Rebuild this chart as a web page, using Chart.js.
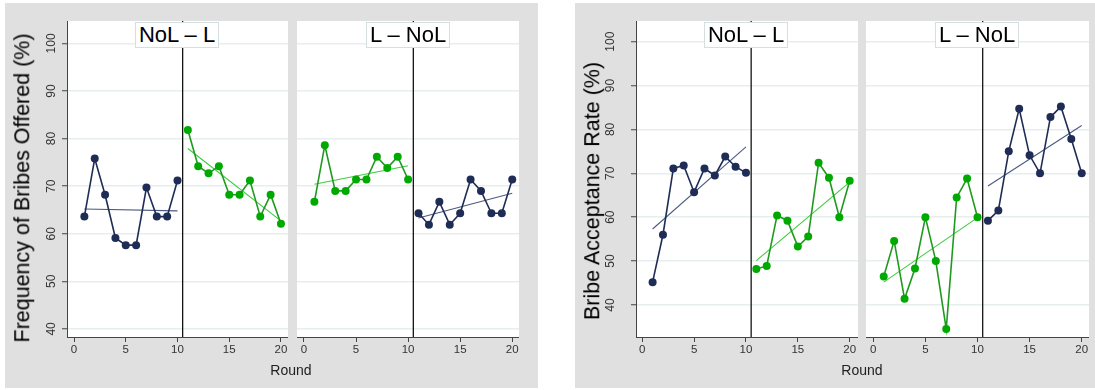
<!DOCTYPE html>
<html><head><meta charset="utf-8">
<script src="https://cdn.jsdelivr.net/npm/chart.js@4/dist/chart.umd.min.js"></script>
<style>
html,body{margin:0;padding:0;background:#fff;width:1095px;height:390px;overflow:hidden;font-family:"Liberation Sans",Arial,sans-serif;}
.bg{position:absolute;background:#e0e0e0;}
canvas{position:absolute;}
.ptitle{position:absolute;top:22px;width:84px;height:26px;margin-left:-42px;background:#fff;border:1px solid #d6dfdf;box-sizing:border-box;font-size:22px;color:#000;text-align:center;line-height:24px;white-space:nowrap;}
.ytitle{position:absolute;font-size:21.5px;white-space:nowrap;transform:translate(-50%,-50%) rotate(-90deg);color:#000;line-height:1;}
.xtitle{position:absolute;font-size:14px;transform:translate(-50%,-50%);color:#222;white-space:nowrap;}
</style></head>
<body>
<div class="bg" style="left:5px;top:3px;width:533px;height:385px"></div>
<div class="bg" style="left:575px;top:3px;width:520px;height:385px"></div>
<canvas id="c1" width="283" height="385" style="left:5px;top:3px"></canvas>
<canvas id="c2" width="222" height="385" style="left:297px;top:3px"></canvas>
<canvas id="c3" width="283" height="385" style="left:575px;top:3px"></canvas>
<canvas id="c4" width="223" height="385" style="left:866px;top:3px"></canvas>
<div class="ptitle" style="left:177px">NoL &ndash; L</div>
<div class="ptitle" style="left:408px">L &ndash; NoL</div>
<div class="ptitle" style="left:746px">NoL &ndash; L</div>
<div class="ptitle" style="left:977px">L &ndash; NoL</div>
<div class="ytitle" style="left:23px;top:187.5px">Frequency of Bribes Offered (%)</div>
<div class="ytitle" style="left:593px;top:191px">Bribe Acceptance Rate (%)</div>
<div class="xtitle" style="left:291px;top:370px">Round</div>
<div class="xtitle" style="left:862px;top:370px">Round</div>
<script>
// ---- data ----
const firstRounds = [1,2,3,4,5,6,7,8,9,10];
const secondRounds = [11,12,13,14,15,16,17,18,19,20];
const fitRoundsFirst = [1,10];
const fitRoundsSecond = [11,20];
const switchRound = 10.5;
const xTicks = [0,5,10,15,20];
const yTicks = [40,50,60,70,80,90,100];

// Frequency of Bribes Offered (%)
const offeredNoLL_NoL = [63.6,75.8,68.2,59.1,57.6,57.6,69.7,63.6,63.6,71.2];
const offeredNoLL_L   = [81.8,74.2,72.7,74.2,68.2,68.2,71.2,63.6,68.2,62.1];
const offeredLNoL_L   = [66.7,78.6,69.0,69.0,71.4,71.4,76.2,73.8,76.2,71.4];
const offeredLNoL_NoL = [64.3,61.9,66.7,61.9,64.3,71.4,69.0,64.3,64.3,71.4];
const fitOfferedNoLL_NoL = [65.2,64.8];
const fitOfferedNoLL_L   = [77.9,62.7];
const fitOfferedLNoL_L   = [70.4,74.3];
const fitOfferedLNoL_NoL = [63.3,68.5];

// Bribe Acceptance Rate (%)
const acceptNoLL_NoL = [45.2,56.0,71.1,71.8,65.7,71.1,69.5,73.8,71.5,70.1];
const acceptNoLL_L   = [48.2,48.9,60.4,59.2,53.3,55.6,72.4,69.0,60.0,68.3];
const acceptLNoL_L   = [46.5,54.6,41.4,48.3,60.0,50.0,34.5,64.5,68.8,60.0];
const acceptLNoL_NoL = [59.2,61.5,75.0,84.7,74.1,70.0,82.8,85.2,77.8,70.0];
const fitAcceptNoLL_NoL = [57.3,76.0];
const fitAcceptNoLL_L   = [50.1,68.0];
const fitAcceptLNoL_L   = [45.2,59.9];
const fitAcceptLNoL_NoL = [67.1,80.9];

// ---- styles ----
const FONT = '"Liberation Sans", Arial, sans-serif';
const NAVY = '#1f2d56', NAVY_FIT = '#4b5a80';
const GREEN_MARK = '#00a900', GREEN_LINE = '#1f9a1f', GREEN_FIT = '#3ccc3c';
const AXIS = '#444';

const pts = (xs, ys) => xs.map((x, i) => ({x: x, y: ys[i]}));

const plotBg = {
  id: 'plotBg',
  beforeDraw(chart) {
    const {ctx, chartArea: a} = chart;
    ctx.save();
    ctx.fillStyle = '#fff';
    ctx.fillRect(a.left, a.top, a.right - a.left, a.bottom - a.top);
    ctx.restore();
  }
};

function series(xs, ys, markColor, lineColor) {
  return {data: pts(xs, ys), borderColor: lineColor, borderWidth: 1.6,
    pointRadius: 4, pointBackgroundColor: markColor, pointBorderWidth: 0, pointHoverRadius: 4};
}
function fit(xs, ys, color) {
  return {data: pts(xs, ys), borderColor: color, borderWidth: 1.1, pointRadius: 0};
}

function makeChart(id, o) {
  const datasets = [
    series(firstRounds, o.first, o.firstMark, o.firstLine),
    series(secondRounds, o.second, o.secondMark, o.secondLine),
    fit(fitRoundsFirst, o.firstFit, o.firstFitColor),
    fit(fitRoundsSecond, o.secondFit, o.secondFitColor),
    {data: [{x: switchRound, y: o.yMin}, {x: switchRound, y: o.yMax}], borderColor: '#000', borderWidth: 1.2, pointRadius: 0}
  ];
  new Chart(document.getElementById(id), {
    type: 'line',
    data: {datasets: datasets},
    plugins: [plotBg],
    options: {
      responsive: false, animation: false, devicePixelRatio: 1, events: [],
      layout: {autoPadding: false, padding: {top: 18, left: 0, right: 0, bottom: 0}},
      plugins: {legend: {display: false}, tooltip: {enabled: false}},
      scales: {
        x: {
          type: 'linear', min: o.xMin, max: o.xMax,
          afterBuildTicks: s => { s.ticks = xTicks.map(v => ({value: v})); },
          afterFit: s => { s.height = 51; s.paddingLeft = 0; s.paddingRight = 0; },
          grid: {drawOnChartArea: false, drawTicks: true, tickLength: 5, tickColor: AXIS, tickWidth: 1},
          border: {display: true, color: AXIS, width: 1},
          ticks: {font: {family: FONT, size: 11.5}, color: '#333', padding: 1, maxRotation: 0, minRotation: 0, autoSkip: false}
        },
        y: {
          type: 'linear', min: o.yMin, max: o.yMax,
          afterBuildTicks: s => { s.ticks = yTicks.map(v => ({value: v})); },
          afterFit: s => { s.width = o.yWidth; s.paddingTop = 0; s.paddingBottom = 0; },
          grid: {color: '#e6eeee', lineWidth: 1.5, drawTicks: o.showY, tickLength: 5, tickColor: AXIS, tickWidth: 1},
          border: {display: o.showY, color: AXIS, width: 1},
          ticks: {display: o.showY, minRotation: 90, maxRotation: 90, crossAlign: 'center', padding: o.yPad,
            font: {family: FONT, size: 12}, color: '#333', autoSkip: false}
        }
      }
    }
  });
}

makeChart('c1', {first: offeredNoLL_NoL, firstMark: NAVY, firstLine: NAVY, firstFit: fitOfferedNoLL_NoL, firstFitColor: NAVY_FIT,
  second: offeredNoLL_L, secondMark: GREEN_MARK, secondLine: GREEN_LINE, secondFit: fitOfferedNoLL_L, secondFitColor: GREEN_FIT,
  yMin: 38.3, yMax: 104.7, xMin: -0.68, xMax: 20.68, yWidth: 62, showY: true, yPad: 0});
makeChart('c2', {first: offeredLNoL_L, firstMark: GREEN_MARK, firstLine: GREEN_LINE, firstFit: fitOfferedLNoL_L, firstFitColor: GREEN_FIT,
  second: offeredLNoL_NoL, secondMark: NAVY, secondLine: NAVY, secondFit: fitOfferedLNoL_NoL, secondFitColor: NAVY_FIT,
  yMin: 38.3, yMax: 104.7, xMin: -0.67, xMax: 20.65, yWidth: 0, showY: false, yPad: 0});
makeChart('c3', {first: acceptNoLL_NoL, firstMark: NAVY, firstLine: NAVY, firstFit: fitAcceptNoLL_NoL, firstFitColor: NAVY_FIT,
  second: acceptNoLL_L, secondMark: GREEN_MARK, secondLine: GREEN_LINE, secondFit: fitAcceptNoLL_L, secondFitColor: GREEN_FIT,
  yMin: 32.7, yMax: 104.7, xMin: -0.6, xMax: 20.8, yWidth: 61, showY: true, yPad: 10});
makeChart('c4', {first: acceptLNoL_L, firstMark: GREEN_MARK, firstLine: GREEN_LINE, firstFit: fitAcceptLNoL_L, firstFitColor: GREEN_FIT,
  second: acceptLNoL_NoL, secondMark: NAVY, secondLine: NAVY, secondFit: fitAcceptLNoL_NoL, secondFitColor: NAVY_FIT,
  yMin: 32.7, yMax: 104.7, xMin: -0.7, xMax: 20.7, yWidth: 0, showY: false, yPad: 0});
</script>
</body></html>
